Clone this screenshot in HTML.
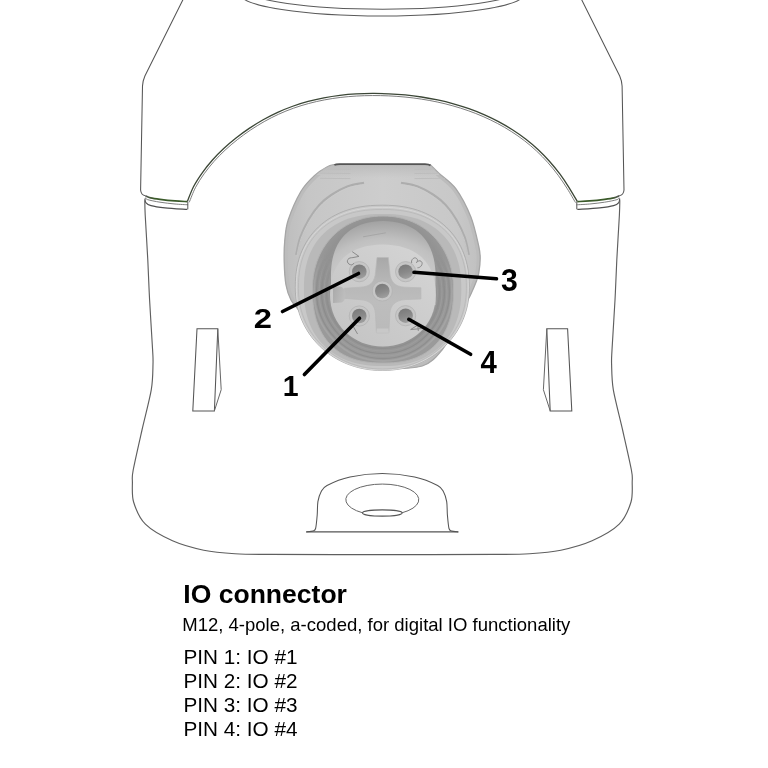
<!DOCTYPE html>
<html><head><meta charset="utf-8"><style>
html,body{margin:0;padding:0;background:#fff;width:768px;height:768px;overflow:hidden}
svg{position:absolute;left:0;top:0;font-family:"Liberation Sans",sans-serif;will-change:transform}
</style></head><body>
<svg width="768" height="768" viewBox="0 0 768 768">
<defs>
<linearGradient id="gBody" x1="0" y1="0" x2="1" y2="0">
 <stop offset="0" stop-color="#bdbdbd"/><stop offset="0.12" stop-color="#c6c6c6"/><stop offset="0.5" stop-color="#cdcdcd"/><stop offset="0.88" stop-color="#c8c8c8"/><stop offset="1" stop-color="#c0c0c0"/>
</linearGradient>
<radialGradient id="gCav" cx="0.5" cy="0.45" r="0.5">
 <stop offset="0.5" stop-color="#9a9a9a"/><stop offset="0.85" stop-color="#929292"/><stop offset="1" stop-color="#9a9a9a"/>
</radialGradient>
<radialGradient id="gIns" cx="0.5" cy="0.85" r="0.85">
 <stop offset="0.45" stop-color="#d0d0d0"/><stop offset="0.75" stop-color="#c0c0c0"/><stop offset="0.92" stop-color="#acacac"/><stop offset="1" stop-color="#a2a2a2"/>
</radialGradient>
<linearGradient id="gFace" x1="0.85" y1="0.1" x2="0.15" y2="0.9">
 <stop offset="0" stop-color="#d3d3d3"/><stop offset="1" stop-color="#c5c5c5"/>
</linearGradient>
<linearGradient id="gCross" x1="0" y1="0" x2="0" y2="1">
 <stop offset="0" stop-color="#a8a8a8"/><stop offset="0.3" stop-color="#b6b6b6"/><stop offset="0.6" stop-color="#bdbdbd"/><stop offset="1" stop-color="#bababa"/>
</linearGradient>
<linearGradient id="gHole" x1="0.3" y1="0" x2="0.6" y2="1">
 <stop offset="0" stop-color="#7a7a7a"/><stop offset="0.55" stop-color="#8a8a8a"/><stop offset="1" stop-color="#a0a0a0"/>
</linearGradient>
<linearGradient id="gKnob" x1="0" y1="0" x2="1" y2="0.3">
 <stop offset="0" stop-color="#a9a9a9"/><stop offset="1" stop-color="#bdbdbd"/>
</linearGradient>
<clipPath id="cBand"><path d="M250 175 L520 175 L520 400 L250 400 Z"/></clipPath>
<linearGradient id="gTop" x1="0" y1="0" x2="0" y2="1"><stop offset="0" stop-color="#b8b8b8"/><stop offset="1" stop-color="#b8b8b8" stop-opacity="0"/></linearGradient>
<linearGradient id="gGreenL" gradientUnits="userSpaceOnUse" x1="145" y1="0" x2="188" y2="0"><stop offset="0" stop-color="#555"/><stop offset="0.2" stop-color="#3b5a2a"/><stop offset="1" stop-color="#3b5a2a"/></linearGradient>
<linearGradient id="gGreenR" gradientUnits="userSpaceOnUse" x1="619.6" y1="0" x2="576.6" y2="0"><stop offset="0" stop-color="#555"/><stop offset="0.2" stop-color="#3b5a2a"/><stop offset="1" stop-color="#3b5a2a"/></linearGradient>
<linearGradient id="gLowM" gradientUnits="userSpaceOnUse" x1="0" y1="255" x2="0" y2="290"><stop offset="0" stop-color="#fff" stop-opacity="0"/><stop offset="1" stop-color="#fff" stop-opacity="1"/></linearGradient>
<mask id="mLow" maskUnits="userSpaceOnUse" x="250" y="200" width="270" height="200"><rect x="250" y="200" width="270" height="200" fill="url(#gLowM)"/></mask>
</defs>
<g><ellipse cx="382.2" cy="-6.15" rx="142" ry="22.2" fill="none" stroke="#5a5a5a" stroke-width="1.1"/>
<ellipse cx="382.6" cy="-10.2" rx="134.9" ry="19.4" fill="none" stroke="#5a5a5a" stroke-width="1.1"/>
<path d="M183.3 -1 L144.9 76 Q142.7 81 142.5 86 L140.6 190 Q141 195 145.4 195.8" stroke="#555" stroke-width="1.05" fill="none" />
<path d="M581.3 -1 L619.7 76 Q621.9 81 622.1 86 L624 190 Q623.6 195 619.2 195.8" stroke="#555" stroke-width="1.05" fill="none" />
<path d="M187.3 201.5 C188.38 198.96 191.23 191.11 193.75 186.28 C196.27 181.45 199.32 176.92 202.44 172.54 C205.56 168.16 208.93 164 212.48 160 C216.03 156 219.8 152.2 223.72 148.54 C227.64 144.88 231.76 141.4 236.01 138.04 C240.26 134.68 244.68 131.44 249.2 128.4 C253.72 125.36 258.4 122.45 263.15 119.77 C267.9 117.09 272.77 114.59 277.7 112.34 C282.63 110.09 287.66 108.06 292.73 106.25 C297.81 104.44 302.95 102.86 308.15 101.46 C313.35 100.06 318.62 98.88 323.91 97.87 C329.21 96.86 334.55 96.05 339.92 95.4 C345.29 94.75 350.7 94.28 356.13 93.96 C361.56 93.63 367.01 93.48 372.47 93.45 C377.93 93.42 383.41 93.54 388.87 93.79 C394.33 94.04 399.81 94.42 405.25 94.96 C410.69 95.49 416.13 96.17 421.53 97 C426.93 97.83 432.31 98.8 437.63 99.94 C442.95 101.08 448.24 102.38 453.46 103.84 C458.68 105.3 463.85 106.92 468.94 108.72 C474.03 110.52 479.05 112.48 483.98 114.63 C488.91 116.78 493.76 119.11 498.5 121.62 C503.24 124.14 507.9 126.83 512.42 129.72 C516.94 132.61 521.36 135.69 525.62 138.98 C529.88 142.27 534.02 145.77 537.99 149.47 C541.96 153.17 545.79 157.11 549.43 161.2 C553.07 165.28 556.55 169.58 559.82 173.98 C563.09 178.38 566.14 183 569.05 187.59 C571.96 192.18 575.92 199.18 577.3 201.5" stroke="#3b4636" stroke-width="1.3" fill="none" />
<path d="M189.23 202.32 C190.3 199.81 193.12 192.01 195.61 187.25 C198.1 182.49 201.08 178.07 204.15 173.76 C207.22 169.45 210.55 165.34 214.05 161.39 C217.55 157.45 221.28 153.69 225.15 150.08 C229.03 146.46 233.11 143.01 237.31 139.69 C241.52 136.37 245.89 133.16 250.37 130.14 C254.85 127.13 259.48 124.25 264.18 121.6 C268.88 118.95 273.7 116.48 278.57 114.25 C283.45 112.02 288.42 110.02 293.44 108.23 C298.46 106.43 303.55 104.87 308.7 103.49 C313.84 102.11 319.06 100.93 324.3 99.93 C329.55 98.93 334.85 98.13 340.17 97.48 C345.5 96.84 350.87 96.38 356.26 96.06 C361.64 95.73 367.06 95.58 372.48 95.55 C377.9 95.52 383.35 95.64 388.77 95.89 C394.2 96.14 399.64 96.52 405.04 97.05 C410.45 97.58 415.85 98.25 421.21 99.08 C426.57 99.9 431.91 100.86 437.19 101.99 C442.47 103.12 447.72 104.41 452.89 105.86 C458.07 107.31 463.2 108.92 468.24 110.7 C473.28 112.48 478.26 114.43 483.14 116.55 C488.02 118.68 492.82 120.99 497.52 123.48 C502.21 125.96 506.82 128.63 511.29 131.49 C515.76 134.35 520.12 137.39 524.34 140.64 C528.55 143.89 532.64 147.35 536.56 151.01 C540.48 154.66 544.27 158.56 547.86 162.6 C551.46 166.63 554.9 170.88 558.13 175.23 C561.37 179.59 564.38 184.16 567.28 188.72 C570.17 193.27 574.12 200.26 575.49 202.57" stroke="#6e6e6e" stroke-width="0.9" fill="none" />
<path d="M145.4 195.8 C146.27 196.13 148.17 197.22 150.6 197.8 C153.03 198.38 155.93 198.78 160 199.3 C164.07 199.82 170.45 200.52 175 200.9 C179.55 201.28 185.25 201.48 187.3 201.6" stroke="url(#gGreenL)" stroke-width="1.7" fill="none" />
<path d="M619.2 195.8 C618.33 196.13 616.43 197.22 614 197.8 C611.57 198.38 608.67 198.78 604.6 199.3 C600.53 199.82 594.15 200.52 589.6 200.9 C585.05 201.28 579.35 201.48 577.3 201.6" stroke="url(#gGreenR)" stroke-width="1.7" fill="none" />
<path d="M145.6 197.6 C145.92 197.93 145.1 198.83 147.5 199.6 C149.9 200.37 155.42 201.47 160 202.2 C164.58 202.93 170.32 203.57 175 204 C179.68 204.43 185.92 204.67 188.1 204.8" stroke="#707070" stroke-width="0.9" fill="none" />
<path d="M619 197.6 C618.68 197.93 619.5 198.83 617.1 199.6 C614.7 200.37 609.18 201.47 604.6 202.2 C600.02 202.93 594.28 203.57 589.6 204 C584.92 204.43 578.68 204.67 576.5 204.8" stroke="#707070" stroke-width="0.9" fill="none" />
<path d="M144.9 198.5 C145.05 199.18 144.78 201.42 145.8 202.6 C146.82 203.78 147.8 204.73 151 205.6 C154.2 206.47 158.95 207.17 165 207.8 C171.05 208.43 183.58 209.13 187.3 209.4" stroke="#4f4f4f" stroke-width="1.2" fill="none" />
<path d="M619.7 198.5 C619.55 199.18 619.82 201.42 618.8 202.6 C617.78 203.78 616.8 204.73 613.6 205.6 C610.4 206.47 605.65 207.17 599.6 207.8 C593.55 208.43 581.02 209.13 577.3 209.4" stroke="#4f4f4f" stroke-width="1.2" fill="none" />
<path d="M187.8 201.5 L187.8 209.3" stroke="#555" stroke-width="1" fill="none" />
<path d="M576.8 201.5 L576.8 209.3" stroke="#555" stroke-width="1" fill="none" />
<path d="M144.8 200.3 C144.86 202.5 144.75 206.05 145.2 215 C145.65 223.95 147.14 247.25 147.8 260 C148.46 272.75 148.88 286.5 149.6 300 C150.32 313.5 152.09 340.36 152.6 350 C153.11 359.64 153.19 358.35 153 364.3 C152.81 370.25 152.95 379.84 151.3 389.7 C149.65 399.56 144.72 417.95 142 430 C139.28 442.05 134.64 462.2 133.2 470 C131.76 477.8 132.34 477.2 132.4 482 C132.46 486.8 131.65 495.67 133.6 502 C135.55 508.33 139.56 518.38 145.4 524.2 C151.24 530.02 163.75 536.9 172.5 540.8 C181.25 544.7 194.38 548.26 203.75 550.2 C213.12 552.14 225.06 553.12 235 553.75 C244.94 554.38 247.91 554.27 270 554.4 C292.1 554.53 348.61 554.6 382.3 554.6 C415.99 554.6 472.5 554.53 494.6 554.4 C516.7 554.27 519.66 554.38 529.6 553.75 C539.54 553.12 551.48 552.14 560.85 550.2 C570.23 548.26 583.35 544.7 592.1 540.8 C600.85 536.9 613.37 530.02 619.2 524.2 C625.04 518.38 629.05 508.33 631 502 C632.95 495.67 632.14 486.8 632.2 482 C632.26 477.2 632.84 477.8 631.4 470 C629.96 462.2 625.32 442.05 622.6 430 C619.88 417.95 614.95 399.56 613.3 389.7 C611.65 379.84 611.8 370.25 611.6 364.3 C611.4 358.35 611.49 359.64 612 350 C612.51 340.36 614.28 313.5 615 300 C615.72 286.5 616.14 272.75 616.8 260 C617.46 247.25 618.95 223.95 619.4 215 C619.85 206.05 619.74 202.5 619.8 200.3" stroke="#5f5f5f" stroke-width="1.15" fill="none" />
<path d="M197 328.8 L217.8 328.8 L214.4 410.9 L192.8 410.9 Z" stroke="#555" stroke-width="1.05" fill="none" />
<path d="M217.8 328.8 L221.2 389.7 L214.4 410.9" stroke="#666" stroke-width="1" fill="none" />
<path d="M567.6 328.8 L546.8 328.8 L550.2 410.9 L571.8 410.9 Z" stroke="#555" stroke-width="1.05" fill="none" />
<path d="M546.8 328.8 L543.4 389.7 L550.2 410.9" stroke="#666" stroke-width="1" fill="none" />
<path d="M306.25 531.9 C307.26 531.76 311.6 531.51 313 531 C314.4 530.49 314.97 530.9 315.6 528.5 C316.23 526.1 316.86 519.02 317.2 515 C317.54 510.98 317.33 505.15 317.9 501.7 C318.47 498.25 319.63 494.43 321 492 C322.37 489.57 322.65 487.75 327 485.5 C331.35 483.25 341.7 478.8 350 477 C358.3 475.2 372.61 473.5 382.3 473.5 C391.99 473.5 406.31 475.2 414.6 477 C422.9 478.8 433.25 483.25 437.6 485.5 C441.95 487.75 442.24 489.57 443.6 492 C444.97 494.43 446.13 498.25 446.7 501.7 C447.27 505.15 447.06 510.98 447.4 515 C447.75 519.02 448.37 526.1 449 528.5 C449.63 530.9 450.2 530.49 451.6 531 C453 531.51 457.34 531.76 458.35 531.9" stroke="#555" stroke-width="1.05" fill="none" />
<path d="M306.25 531.9 L458.3 531.9" stroke="#555" stroke-width="1.2" fill="none" />
<path d="M362.6 512.8 A36.5 15.6 0 1 1 402 512.8" fill="none" stroke="#666" stroke-width="1"/>
<ellipse cx="382.3" cy="513" rx="19.8" ry="3.1" fill="none" stroke="#555" stroke-width="1.1"/></g>
<g><clipPath id="cBody"><path d="M335.2 164.4 C333.95 164.79 330.02 165.32 326.9 167 C323.78 168.68 318.28 171.96 314.4 175.6 C310.51 179.24 304.93 184.59 301 191.25 C297.07 197.91 290.63 212.69 288.2 220 C285.77 227.31 285.4 233.7 284.8 240 C284.2 246.3 284.02 255.25 284.2 262 C284.38 268.75 284.98 279.3 286 285 C287.02 290.7 288.9 295.95 291 300 C293.1 304.05 296.25 306 300 312 C303.75 318 309.85 332.8 316 340 C322.15 347.2 331.02 355.8 341 360 C350.98 364.2 370.31 367.1 382.5 368 C394.69 368.9 413.38 368.7 422.3 366 C431.23 363.3 436.5 356.6 442 350 C447.5 343.4 455.85 327.7 459 322 C462.15 316.3 461.8 315.15 463 312 C464.2 308.85 465.95 303.4 467 301 C468.05 298.6 468.57 299 470 296 C471.43 293 475.18 284.45 476.5 281 C477.82 277.55 478.25 276.45 478.8 273 C479.36 269.55 480.21 262.05 480.2 258 C480.19 253.95 480.09 252.15 478.7 246 C477.31 239.85 474.33 225.61 470.9 217 C467.46 208.39 460.64 195.22 455.8 188.6 C450.96 181.98 442.4 176.44 438.6 172.9 C434.81 169.36 431.72 166.19 430.5 165 Z"/></clipPath>
<path d="M335.2 164.4 C333.95 164.79 330.02 165.32 326.9 167 C323.78 168.68 318.28 171.96 314.4 175.6 C310.51 179.24 304.93 184.59 301 191.25 C297.07 197.91 290.63 212.69 288.2 220 C285.77 227.31 285.4 233.7 284.8 240 C284.2 246.3 284.02 255.25 284.2 262 C284.38 268.75 284.98 279.3 286 285 C287.02 290.7 288.9 295.95 291 300 C293.1 304.05 296.25 306 300 312 C303.75 318 309.85 332.8 316 340 C322.15 347.2 331.02 355.8 341 360 C350.98 364.2 370.31 367.1 382.5 368 C394.69 368.9 413.38 368.7 422.3 366 C431.23 363.3 436.5 356.6 442 350 C447.5 343.4 455.85 327.7 459 322 C462.15 316.3 461.8 315.15 463 312 C464.2 308.85 465.95 303.4 467 301 C468.05 298.6 468.57 299 470 296 C471.43 293 475.18 284.45 476.5 281 C477.82 277.55 478.25 276.45 478.8 273 C479.36 269.55 480.21 262.05 480.2 258 C480.19 253.95 480.09 252.15 478.7 246 C477.31 239.85 474.33 225.61 470.9 217 C467.46 208.39 460.64 195.22 455.8 188.6 C450.96 181.98 442.4 176.44 438.6 172.9 C434.81 169.36 431.72 166.19 430.5 165 Z" fill="url(#gBody)"/>
<g clip-path="url(#cBody)"><path d="M335.2 164.4 C333.95 164.79 330.02 165.32 326.9 167 C323.78 168.68 318.28 171.96 314.4 175.6 C310.51 179.24 304.93 184.59 301 191.25 C297.07 197.91 290.63 212.69 288.2 220 C285.77 227.31 285.4 233.7 284.8 240 C284.2 246.3 284.02 255.25 284.2 262 C284.38 268.75 284.98 279.3 286 285 C287.02 290.7 288.9 295.95 291 300 C293.1 304.05 296.25 306 300 312 C303.75 318 309.85 332.8 316 340 C322.15 347.2 331.02 355.8 341 360 C350.98 364.2 370.31 367.1 382.5 368 C394.69 368.9 413.38 368.7 422.3 366 C431.23 363.3 436.5 356.6 442 350 C447.5 343.4 455.85 327.7 459 322 C462.15 316.3 461.8 315.15 463 312 C464.2 308.85 465.95 303.4 467 301 C468.05 298.6 468.57 299 470 296 C471.43 293 475.18 284.45 476.5 281 C477.82 277.55 478.25 276.45 478.8 273 C479.36 269.55 480.21 262.05 480.2 258 C480.19 253.95 480.09 252.15 478.7 246 C477.31 239.85 474.33 225.61 470.9 217 C467.46 208.39 460.64 195.22 455.8 188.6 C450.96 181.98 442.4 176.44 438.6 172.9 C434.81 169.36 431.72 166.19 430.5 165 Z" fill="none" stroke="#bcbcbc" stroke-width="7" clip-path="url(#cBand)"/></g>
<path d="M335.2 164.4 C333.95 164.79 330.02 165.32 326.9 167 C323.78 168.68 318.28 171.96 314.4 175.6 C310.51 179.24 304.93 184.59 301 191.25 C297.07 197.91 290.63 212.69 288.2 220 C285.77 227.31 285.4 233.7 284.8 240 C284.2 246.3 284.02 255.25 284.2 262 C284.38 268.75 284.98 279.3 286 285 C287.02 290.7 288.9 295.95 291 300 C293.1 304.05 296.25 306 300 312 C303.75 318 309.85 332.8 316 340 C322.15 347.2 331.02 355.8 341 360 C350.98 364.2 370.31 367.1 382.5 368 C394.69 368.9 413.38 368.7 422.3 366 C431.23 363.3 436.5 356.6 442 350 C447.5 343.4 455.85 327.7 459 322 C462.15 316.3 461.8 315.15 463 312 C464.2 308.85 465.95 303.4 467 301 C468.05 298.6 468.57 299 470 296 C471.43 293 475.18 284.45 476.5 281 C477.82 277.55 478.25 276.45 478.8 273 C479.36 269.55 480.21 262.05 480.2 258 C480.19 253.95 480.09 252.15 478.7 246 C477.31 239.85 474.33 225.61 470.9 217 C467.46 208.39 460.64 195.22 455.8 188.6 C450.96 181.98 442.4 176.44 438.6 172.9 C434.81 169.36 431.72 166.19 430.5 165 Z" fill="none" stroke="#a6a6a6" stroke-width="1.3"/>
<rect x="300" y="164" width="170" height="14" fill="url(#gTop)" clip-path="url(#cBody)" opacity="0.8"/>
<path d="M320 169 L350.5 169.3" stroke="#bdbdbd" stroke-width="1" clip-path="url(#cBody)"/>
<path d="M414.5 169.3 L445 169" stroke="#bdbdbd" stroke-width="1" clip-path="url(#cBody)"/>
<path d="M320 173.2 L350.5 173.5" stroke="#bdbdbd" stroke-width="1" clip-path="url(#cBody)"/>
<path d="M414.5 173.5 L445 173.2" stroke="#bdbdbd" stroke-width="1" clip-path="url(#cBody)"/>
<path d="M320 178.3 L350.5 178.60000000000002" stroke="#bdbdbd" stroke-width="1" clip-path="url(#cBody)"/>
<path d="M414.5 178.60000000000002 L445 178.3" stroke="#bdbdbd" stroke-width="1" clip-path="url(#cBody)"/>
<path d="M334.4 165 Q336 164.2 340 164.2 L425 164.2 Q429 164.2 430.5 165.5" stroke="#555" stroke-width="1.8" fill="none"/>
<path d="M296.25 255 C296.94 252.08 298.32 243.37 300.4 237.5 C302.48 231.63 305.62 225.18 308.75 219.8 C311.88 214.42 315.38 209.37 319.2 205.2 C323.02 201.03 327.02 197.92 331.7 194.8 C336.38 191.68 341.92 188.5 347.3 186.5 C352.68 184.5 361.22 183.42 364 182.8" fill="none" stroke="#adadad" stroke-width="2.4"/>
<path d="M296.25 255 C296.94 252.08 298.32 243.37 300.4 237.5 C302.48 231.63 305.62 225.18 308.75 219.8 C311.88 214.42 315.38 209.37 319.2 205.2 C323.02 201.03 327.02 197.92 331.7 194.8 C336.38 191.68 341.92 188.5 347.3 186.5 C352.68 184.5 361.22 183.42 364 182.8" fill="none" stroke="#cdcdcd" stroke-width="0.8" transform="translate(0.6 1.4)"/>
<path d="M468.75 255 C468.06 252.08 466.68 243.37 464.6 237.5 C462.52 231.63 459.38 225.18 456.25 219.8 C453.12 214.42 449.62 209.37 445.8 205.2 C441.98 201.03 437.98 197.92 433.3 194.8 C428.62 191.68 423.08 188.5 417.7 186.5 C412.32 184.5 403.78 183.42 401 182.8" fill="none" stroke="#adadad" stroke-width="2.4"/>
<path d="M468.75 255 C468.06 252.08 466.68 243.37 464.6 237.5 C462.52 231.63 459.38 225.18 456.25 219.8 C453.12 214.42 449.62 209.37 445.8 205.2 C441.98 201.03 437.98 197.92 433.3 194.8 C428.62 191.68 423.08 188.5 417.7 186.5 C412.32 184.5 403.78 183.42 401 182.8" fill="none" stroke="#cdcdcd" stroke-width="0.8" transform="translate(-0.6 1.4)"/>
<path d="M469.3 287.5 L469.18 292.17 L468.83 296.67 L468.25 301.09 L467.44 305.43 L466.41 309.7 L465.14 313.89 L463.66 318 L461.95 322.01 L460.04 325.91 L457.91 329.71 L455.58 333.38 L453.05 336.92 L450.33 340.33 L447.42 343.58 L444.34 346.69 L441.09 349.63 L437.67 352.4 L434.1 355 L430.39 357.41 L426.54 359.63 L422.57 361.66 L418.47 363.49 L414.27 365.12 L409.97 366.53 L405.57 367.74 L401.09 368.73 L396.54 369.5 L391.91 370.06 L387.19 370.39 L382.3 370.5 L377.41 370.39 L372.69 370.06 L368.06 369.5 L363.51 368.73 L359.03 367.74 L354.63 366.53 L350.33 365.12 L346.13 363.49 L342.03 361.66 L338.06 359.63 L334.21 357.41 L330.5 355 L326.93 352.4 L323.51 349.63 L320.26 346.69 L317.18 343.58 L314.27 340.33 L311.55 336.92 L309.02 333.38 L306.69 329.71 L304.56 325.91 L302.65 322.01 L300.94 318 L299.46 313.89 L298.19 309.7 L297.16 305.43 L296.35 301.09 L295.77 296.67 L295.42 292.17 L295.3 287.5 L295.41 281.52 L295.72 276.44 L296.25 271.68 L296.99 267.13 L297.94 262.75 L299.1 258.52 L300.46 254.44 L302.02 250.51 L303.78 246.71 L305.74 243.06 L307.9 239.55 L310.24 236.18 L312.77 232.97 L315.48 229.92 L318.37 227.02 L321.43 224.29 L324.66 221.72 L328.05 219.33 L331.61 217.11 L335.32 215.08 L339.18 213.22 L343.19 211.56 L347.36 210.08 L351.67 208.79 L356.13 207.7 L360.76 206.8 L365.57 206.1 L370.61 205.6 L375.98 205.3 L382.3 205.2 L388.62 205.3 L393.99 205.6 L399.03 206.1 L403.84 206.8 L408.47 207.7 L412.93 208.79 L417.24 210.08 L421.41 211.56 L425.42 213.22 L429.28 215.08 L432.99 217.11 L436.55 219.33 L439.94 221.72 L443.17 224.29 L446.23 227.02 L449.12 229.92 L451.83 232.97 L454.36 236.18 L456.7 239.55 L458.86 243.06 L460.82 246.71 L462.58 250.51 L464.14 254.44 L465.5 258.52 L466.66 262.75 L467.61 267.13 L468.35 271.68 L468.88 276.44 L469.19 281.52 Z" fill="#c8c8c8" stroke="#acacac" stroke-width="0.9"/>
<path d="M468.3 288 L468.19 292.61 L467.84 297.06 L467.27 301.42 L466.47 305.71 L465.44 309.93 L464.19 314.08 L462.72 318.13 L461.04 322.09 L459.14 325.95 L457.04 329.7 L454.74 333.33 L452.24 336.83 L449.55 340.19 L446.67 343.41 L443.63 346.47 L440.41 349.38 L437.04 352.12 L433.51 354.68 L429.84 357.07 L426.03 359.26 L422.1 361.27 L418.06 363.08 L413.9 364.68 L409.65 366.08 L405.3 367.27 L400.88 368.25 L396.38 369.01 L391.8 369.56 L387.14 369.89 L382.3 370 L377.46 369.89 L372.8 369.56 L368.22 369.01 L363.72 368.25 L359.3 367.27 L354.95 366.08 L350.7 364.68 L346.54 363.08 L342.5 361.27 L338.57 359.26 L334.76 357.07 L331.09 354.68 L327.56 352.12 L324.19 349.38 L320.97 346.47 L317.93 343.41 L315.05 340.19 L312.36 336.83 L309.86 333.33 L307.56 329.7 L305.46 325.95 L303.56 322.09 L301.88 318.13 L300.41 314.08 L299.16 309.93 L298.13 305.71 L297.33 301.42 L296.76 297.06 L296.41 292.61 L296.3 288 L296.4 282.15 L296.72 277.17 L297.24 272.51 L297.97 268.05 L298.91 263.76 L300.05 259.62 L301.4 255.63 L302.94 251.77 L304.68 248.05 L306.62 244.47 L308.75 241.04 L311.07 237.74 L313.57 234.6 L316.25 231.61 L319.1 228.77 L322.13 226.09 L325.32 223.58 L328.68 221.24 L332.19 219.07 L335.86 217.07 L339.68 215.26 L343.64 213.62 L347.76 212.18 L352.02 210.92 L356.43 209.85 L361.01 208.97 L365.77 208.28 L370.75 207.79 L376.05 207.5 L382.3 207.4 L388.55 207.5 L393.85 207.79 L398.83 208.28 L403.59 208.97 L408.17 209.85 L412.58 210.92 L416.84 212.18 L420.96 213.62 L424.92 215.26 L428.74 217.07 L432.41 219.07 L435.92 221.24 L439.28 223.58 L442.47 226.09 L445.5 228.77 L448.35 231.61 L451.03 234.6 L453.53 237.74 L455.85 241.04 L457.98 244.47 L459.92 248.05 L461.66 251.77 L463.2 255.63 L464.55 259.62 L465.69 263.76 L466.63 268.05 L467.36 272.51 L467.88 277.17 L468.2 282.15 Z" fill="none" stroke="#d6d6d6" stroke-width="1"/>
<path d="M466.4 288.5 L466.29 293.03 L465.95 297.39 L465.39 301.68 L464.61 305.89 L463.61 310.03 L462.39 314.1 L460.95 318.08 L459.31 321.97 L457.46 325.76 L455.4 329.44 L453.15 333 L450.71 336.43 L448.08 339.74 L445.28 342.9 L442.3 345.91 L439.16 348.76 L435.86 351.45 L432.42 353.96 L428.83 356.3 L425.12 358.46 L421.28 360.43 L417.32 362.2 L413.27 363.78 L409.11 365.15 L404.87 366.32 L400.55 367.28 L396.15 368.03 L391.68 368.57 L387.12 368.89 L382.4 369 L377.68 368.89 L373.12 368.57 L368.65 368.03 L364.25 367.28 L359.93 366.32 L355.69 365.15 L351.53 363.78 L347.48 362.2 L343.52 360.43 L339.68 358.46 L335.97 356.3 L332.38 353.96 L328.94 351.45 L325.64 348.76 L322.5 345.91 L319.52 342.9 L316.72 339.74 L314.09 336.43 L311.65 333 L309.4 329.44 L307.34 325.76 L305.49 321.97 L303.85 318.08 L302.41 314.1 L301.19 310.03 L300.19 305.89 L299.41 301.68 L298.85 297.39 L298.51 293.03 L298.4 288.5 L298.5 282.43 L298.8 277.41 L299.3 272.76 L300 268.34 L300.89 264.11 L301.99 260.05 L303.27 256.13 L304.75 252.37 L306.42 248.74 L308.28 245.26 L310.32 241.92 L312.54 238.73 L314.94 235.69 L317.51 232.79 L320.26 230.06 L323.17 227.47 L326.25 225.05 L329.48 222.8 L332.88 220.71 L336.43 218.79 L340.13 217.04 L343.98 215.47 L347.99 214.08 L352.15 212.87 L356.47 211.85 L360.96 211 L365.66 210.35 L370.61 209.88 L375.94 209.59 L382.4 209.5 L388.86 209.59 L394.19 209.88 L399.14 210.35 L403.84 211 L408.33 211.85 L412.65 212.87 L416.81 214.08 L420.82 215.47 L424.67 217.04 L428.37 218.79 L431.92 220.71 L435.32 222.8 L438.55 225.05 L441.63 227.47 L444.54 230.06 L447.29 232.79 L449.86 235.69 L452.26 238.73 L454.48 241.92 L456.52 245.26 L458.38 248.74 L460.05 252.37 L461.53 256.13 L462.81 260.05 L463.91 264.11 L464.8 268.34 L465.5 272.76 L466 277.41 L466.3 282.43 Z" fill="none" stroke="#b9b9b9" stroke-width="0.9"/>
<path d="M461.3 289 L461.21 294.92 L460.92 299.81 L460.46 304.34 L459.8 308.65 L458.96 312.77 L457.94 316.73 L456.73 320.55 L455.35 324.22 L453.79 327.75 L452.05 331.14 L450.14 334.4 L448.05 337.51 L445.81 340.48 L443.39 343.3 L440.82 345.97 L438.09 348.48 L435.21 350.84 L432.18 353.04 L429 355.08 L425.67 356.95 L422.21 358.65 L418.6 360.18 L414.84 361.53 L410.95 362.71 L406.9 363.71 L402.68 364.53 L398.28 365.17 L393.64 365.63 L388.65 365.91 L382.6 366 L376.55 365.91 L371.56 365.63 L366.92 365.17 L362.52 364.53 L358.3 363.71 L354.25 362.71 L350.36 361.53 L346.6 360.18 L342.99 358.65 L339.53 356.95 L336.2 355.08 L333.02 353.04 L329.99 350.84 L327.11 348.48 L324.38 345.97 L321.81 343.3 L319.39 340.48 L317.15 337.51 L315.06 334.4 L313.15 331.14 L311.41 327.75 L309.85 324.22 L308.47 320.55 L307.26 316.73 L306.24 312.77 L305.4 308.65 L304.74 304.34 L304.28 299.81 L303.99 294.92 L303.9 289 L303.99 282.91 L304.27 278.03 L304.73 273.53 L305.37 269.3 L306.19 265.26 L307.19 261.39 L308.37 257.68 L309.73 254.12 L311.26 250.7 L312.97 247.42 L314.84 244.28 L316.89 241.29 L319.1 238.43 L321.47 235.72 L324 233.16 L326.69 230.74 L329.54 228.48 L332.53 226.38 L335.68 224.43 L338.97 222.64 L342.41 221.02 L346 219.56 L349.74 218.26 L353.63 217.14 L357.69 216.18 L361.92 215.4 L366.37 214.79 L371.08 214.35 L376.21 214.09 L382.6 214 L388.99 214.09 L394.12 214.35 L398.83 214.79 L403.28 215.4 L407.51 216.18 L411.57 217.14 L415.46 218.26 L419.2 219.56 L422.79 221.02 L426.23 222.64 L429.52 224.43 L432.67 226.38 L435.66 228.48 L438.51 230.74 L441.2 233.16 L443.73 235.72 L446.1 238.43 L448.31 241.29 L450.36 244.28 L452.23 247.42 L453.94 250.7 L455.47 254.12 L456.83 257.68 L458.01 261.39 L459.01 265.26 L459.83 269.3 L460.47 273.53 L460.93 278.03 L461.21 282.91 Z" fill="#b9b9b9"/>
<path d="M453.5 289 L453.42 295.33 L453.18 300.27 L452.78 304.77 L452.21 308.99 L451.49 312.99 L450.61 316.81 L449.58 320.47 L448.38 323.97 L447.04 327.32 L445.54 330.53 L443.89 333.6 L442.09 336.52 L440.14 339.31 L438.05 341.94 L435.82 344.44 L433.44 346.78 L430.93 348.98 L428.28 351.02 L425.49 352.91 L422.57 354.64 L419.51 356.21 L416.31 357.63 L412.98 358.88 L409.5 359.97 L405.86 360.89 L402.04 361.65 L398.02 362.24 L393.74 362.66 L389.03 362.92 L383 363 L376.97 362.92 L372.26 362.66 L367.98 362.24 L363.96 361.65 L360.14 360.89 L356.5 359.97 L353.02 358.88 L349.69 357.63 L346.49 356.21 L343.43 354.64 L340.51 352.91 L337.72 351.02 L335.07 348.98 L332.56 346.78 L330.18 344.44 L327.95 341.94 L325.86 339.31 L323.91 336.52 L322.11 333.6 L320.46 330.53 L318.96 327.32 L317.62 323.97 L316.42 320.47 L315.39 316.81 L314.51 312.99 L313.79 308.99 L313.22 304.77 L312.82 300.27 L312.58 295.33 L312.5 289 L312.59 284.6 L312.87 280.5 L313.33 276.53 L313.97 272.64 L314.79 268.85 L315.79 265.14 L316.97 261.53 L318.32 258.01 L319.84 254.59 L321.53 251.28 L323.38 248.07 L325.39 244.99 L327.55 242.04 L329.86 239.21 L332.32 236.52 L334.92 233.98 L337.64 231.58 L340.5 229.34 L343.48 227.26 L346.57 225.35 L349.77 223.6 L353.07 222.02 L356.47 220.63 L359.96 219.41 L363.54 218.37 L367.2 217.52 L370.95 216.86 L374.79 216.38 L378.75 216.1 L383 216 L387.25 216.1 L391.21 216.38 L395.05 216.86 L398.8 217.52 L402.46 218.37 L406.04 219.41 L409.53 220.63 L412.93 222.02 L416.23 223.6 L419.43 225.35 L422.52 227.26 L425.5 229.34 L428.36 231.58 L431.08 233.98 L433.68 236.52 L436.14 239.21 L438.45 242.04 L440.61 244.99 L442.62 248.07 L444.47 251.28 L446.16 254.59 L447.68 258.01 L449.03 261.53 L450.21 265.14 L451.21 268.85 L452.03 272.64 L452.67 276.53 L453.13 280.5 L453.41 284.6 Z" fill="url(#gCav)" stroke="#b2b2b2" stroke-width="1"/>
<g mask="url(#mLow)">
<ellipse cx="383" cy="291.5" rx="69" ry="69.5" fill="none" stroke="#a4a4a4" stroke-width="1.8"/>
<ellipse cx="383" cy="291.5" rx="66.5" ry="67.0" fill="none" stroke="#8e8e8e" stroke-width="1.3"/>
<ellipse cx="383" cy="291.5" rx="64" ry="64.5" fill="none" stroke="#9e9e9e" stroke-width="1.2"/>
<ellipse cx="383" cy="291.5" rx="61.5" ry="62.0" fill="none" stroke="#8c8c8c" stroke-width="1.2"/>
<ellipse cx="383" cy="291.5" rx="59" ry="59.5" fill="none" stroke="#9c9c9c" stroke-width="1.2"/>
<ellipse cx="383" cy="291.5" rx="56.5" ry="57.0" fill="none" stroke="#8e8e8e" stroke-width="1.1"/>
<ellipse cx="383" cy="291.5" rx="54.5" ry="55.0" fill="none" stroke="#9a9a9a" stroke-width="1.0"/>
</g>
<path d="M331 305 L331 272 C332 240 350 221.5 383 221 C416 221.5 434 240 435.5 272 L435.5 305 Z" fill="url(#gIns)"/>
<path d="M363 236.8 L385.8 232.8" stroke="#a6a6a6" stroke-width="1"/>
<path d="M330 295 C330 266 345 245 382.7 244.5 C420.5 245 435.8 266 435.8 295 C435.8 325 412 346.5 382.7 346.5 C353.5 346.5 330 325 330 295 Z" fill="url(#gFace)"/>
<path d="M377 257.5 L388.3 257.5 L389.8 272 C390.4 282 395 286.7 405 287.2 L420.9 287.8 L420.9 299 L405 299.6 C395 300.5 390.4 305 389.8 314 L388.9 332.8 L376.4 332.8 L375.5 314 C374.9 305 370.5 300.5 360 299.6 L344.4 298.4 L344.4 288.3 L360 287.2 C370.5 286.7 374.9 282 375.5 272 Z" fill="url(#gCross)" stroke="#b9b9b9" stroke-width="0.7"/>
<path d="M377 328.5 L388.3 328.5 L388.9 332.8 L376.4 332.8 Z" fill="#c8c8c8"/>
<path d="M333 286.5 L340 286.5 C346.5 287.5 347.5 300 341.5 302.5 L333 303 Z" fill="url(#gKnob)"/>
<circle cx="359.3" cy="271.7" r="10.1" fill="#c6c6c6" stroke="#b2b2b2" stroke-width="0.8"/>
<circle cx="359.3" cy="271.7" r="7.3" fill="url(#gHole)"/>
<circle cx="405.6" cy="271.7" r="10.1" fill="#c6c6c6" stroke="#b2b2b2" stroke-width="0.8"/>
<circle cx="405.6" cy="271.7" r="7.3" fill="url(#gHole)"/>
<circle cx="359.3" cy="316" r="10.1" fill="#c6c6c6" stroke="#b2b2b2" stroke-width="0.8"/>
<circle cx="359.3" cy="316" r="7.3" fill="url(#gHole)"/>
<circle cx="405.6" cy="315.7" r="10.1" fill="#c6c6c6" stroke="#b2b2b2" stroke-width="0.8"/>
<circle cx="405.6" cy="315.7" r="7.3" fill="url(#gHole)"/>
<circle cx="382.3" cy="291" r="10.1" fill="#c6c6c6" stroke="#b2b2b2" stroke-width="0.8"/>
<circle cx="382.3" cy="291" r="7.3" fill="url(#gHole)"/>
<g fill="none" stroke="#8a8a8a" stroke-width="1" stroke-linecap="round" stroke-linejoin="round">
<path d="M0.6 2.6 C0.6 0.9 2 0 3.5 0 C5.2 0 6.5 1 6.5 2.7 C6.5 4.3 5.4 5.1 4 6.3 L0.4 10 L7 10" vector-effect="non-scaling-stroke" transform="translate(352.5 259.2) rotate(215) scale(1.2 1.2) translate(-3.5 -5)"/>
<path d="M0.6 1.3 C1.2 0.4 2.3 0 3.4 0 C5.2 0 6.4 1 6.4 2.5 C6.4 4 5.2 4.8 3.3 4.8 C5.4 4.8 6.8 5.8 6.8 7.4 C6.8 9 5.4 10 3.5 10 C2.2 10 1 9.5 0.3 8.6" vector-effect="non-scaling-stroke" transform="translate(416.8 262.6) rotate(-53) scale(1.1 1.1) translate(-3.5 -5)"/>
<path d="M1.6 2.2 L4.2 0.2 L4.2 10" vector-effect="non-scaling-stroke" transform="translate(354.3 329.6) rotate(-30) scale(0.9 1.0) translate(-3.5 -5)"/>
<path d="M5.2 10 L5.2 0 L0.2 7 L7.2 7" vector-effect="non-scaling-stroke" transform="translate(415.5 328) rotate(-5) scale(1.5 0.55) translate(-3.5 -5)"/>
</g></g>
<g stroke="#000" stroke-width="3.6" stroke-linecap="round">
<line x1="358.5" y1="273.5" x2="282.5" y2="311.5"/>
<line x1="359.5" y1="318.2" x2="304.4" y2="374.5"/>
<line x1="414" y1="272.3" x2="496.5" y2="278.8"/>
<line x1="408.8" y1="319.3" x2="470.6" y2="354.3"/>
</g>
<g font-family="Liberation Sans" font-weight="bold" fill="#000" font-size="28.5">
<text transform="translate(253.8 327.9) scale(1.15 0.98)">2</text>
<text transform="translate(282.8 396.4) scale(1.0 1.06)">1</text>
<text transform="translate(500.9 290.5) scale(1.06 1.12)">3</text>
<text transform="translate(480.5 373.3) scale(1.03 1.1)">4</text>
</g>
<g font-family="Liberation Sans" fill="#000">
<text font-weight="bold" font-size="26.1" transform="translate(183.3 602.9) scale(1.017 1)">IO connector</text>
<text font-size="18.2" transform="translate(182.2 630.8) scale(1.018 1)">M12, 4-pole, a-coded, for digital IO functionality</text>
<text font-size="21.1" transform="translate(183.5 663.8) scale(0.982 1)">PIN 1: IO #1</text>
<text font-size="21.1" transform="translate(183.5 687.8) scale(0.982 1)">PIN 2: IO #2</text>
<text font-size="21.1" transform="translate(183.5 711.8) scale(0.982 1)">PIN 3: IO #3</text>
<text font-size="21.1" transform="translate(183.5 735.8) scale(0.982 1)">PIN 4: IO #4</text>
</g>
</svg>
</body></html>
